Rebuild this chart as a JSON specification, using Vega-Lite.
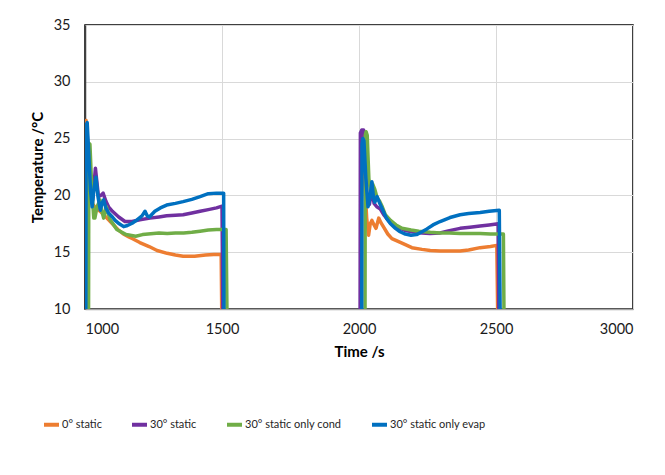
{
  "$schema": "https://vega.github.io/schema/vega-lite/v6.json",
  "width": 548,
  "height": 284,
  "autosize": {"type": "none"},
  "padding": {"left": 85, "top": 25, "right": 32, "bottom": 166},
  "background": "white",
  "config": {
    "font": "Lato",
    "view": {"stroke": "#000000", "strokeWidth": 1.5}
  },
  "data": {
    "values": [
      {"s": "0° static", "c": 1, "t": 1000, "T": 10},
      {"s": "0° static", "c": 1, "t": 1001, "T": 26.3},
      {"s": "0° static", "c": 1, "t": 1004, "T": 26.6},
      {"s": "0° static", "c": 1, "t": 1008, "T": 25},
      {"s": "0° static", "c": 1, "t": 1015, "T": 21.5},
      {"s": "0° static", "c": 1, "t": 1025, "T": 19.3},
      {"s": "0° static", "c": 1, "t": 1040, "T": 18.9},
      {"s": "0° static", "c": 1, "t": 1060, "T": 18.5},
      {"s": "0° static", "c": 1, "t": 1080, "T": 18.0},
      {"s": "0° static", "c": 1, "t": 1100, "T": 17.5},
      {"s": "0° static", "c": 1, "t": 1120, "T": 17.0},
      {"s": "0° static", "c": 1, "t": 1140, "T": 16.6},
      {"s": "0° static", "c": 1, "t": 1160, "T": 16.35},
      {"s": "0° static", "c": 1, "t": 1172, "T": 16.2},
      {"s": "0° static", "c": 1, "t": 1200, "T": 15.85},
      {"s": "0° static", "c": 1, "t": 1234, "T": 15.5},
      {"s": "0° static", "c": 1, "t": 1263, "T": 15.15},
      {"s": "0° static", "c": 1, "t": 1300, "T": 14.9},
      {"s": "0° static", "c": 1, "t": 1330, "T": 14.75},
      {"s": "0° static", "c": 1, "t": 1358, "T": 14.65},
      {"s": "0° static", "c": 1, "t": 1400, "T": 14.65},
      {"s": "0° static", "c": 1, "t": 1440, "T": 14.75},
      {"s": "0° static", "c": 1, "t": 1470, "T": 14.8},
      {"s": "0° static", "c": 1, "t": 1497, "T": 14.8},
      {"s": "0° static", "c": 1, "t": 1499, "T": 10},
      {"s": "0° static", "c": 2, "t": 2007, "T": 10},
      {"s": "0° static", "c": 2, "t": 2009, "T": 25.3},
      {"s": "0° static", "c": 2, "t": 2014, "T": 25.0},
      {"s": "0° static", "c": 2, "t": 2020, "T": 21.5},
      {"s": "0° static", "c": 2, "t": 2028, "T": 18.0},
      {"s": "0° static", "c": 2, "t": 2035, "T": 16.5},
      {"s": "0° static", "c": 2, "t": 2041, "T": 17.5},
      {"s": "0° static", "c": 2, "t": 2047, "T": 17.8},
      {"s": "0° static", "c": 2, "t": 2055, "T": 17.4},
      {"s": "0° static", "c": 2, "t": 2062, "T": 17.1},
      {"s": "0° static", "c": 2, "t": 2072, "T": 18.0},
      {"s": "0° static", "c": 2, "t": 2080, "T": 17.6},
      {"s": "0° static", "c": 2, "t": 2090, "T": 17.2},
      {"s": "0° static", "c": 2, "t": 2105, "T": 16.6},
      {"s": "0° static", "c": 2, "t": 2120, "T": 16.2},
      {"s": "0° static", "c": 2, "t": 2157, "T": 15.8},
      {"s": "0° static", "c": 2, "t": 2193, "T": 15.4},
      {"s": "0° static", "c": 2, "t": 2230, "T": 15.25},
      {"s": "0° static", "c": 2, "t": 2260, "T": 15.15},
      {"s": "0° static", "c": 2, "t": 2296, "T": 15.1},
      {"s": "0° static", "c": 2, "t": 2330, "T": 15.1},
      {"s": "0° static", "c": 2, "t": 2369, "T": 15.1},
      {"s": "0° static", "c": 2, "t": 2400, "T": 15.2},
      {"s": "0° static", "c": 2, "t": 2442, "T": 15.4},
      {"s": "0° static", "c": 2, "t": 2480, "T": 15.5},
      {"s": "0° static", "c": 2, "t": 2503, "T": 15.6},
      {"s": "0° static", "c": 2, "t": 2506, "T": 10},

      {"s": "30° static", "c": 1, "t": 1002, "T": 10},
      {"s": "30° static", "c": 1, "t": 1003, "T": 25.8},
      {"s": "30° static", "c": 1, "t": 1007, "T": 25.9},
      {"s": "30° static", "c": 1, "t": 1013, "T": 23},
      {"s": "30° static", "c": 1, "t": 1020, "T": 20.2},
      {"s": "30° static", "c": 1, "t": 1028, "T": 19.6},
      {"s": "30° static", "c": 1, "t": 1038, "T": 22.4},
      {"s": "30° static", "c": 1, "t": 1049, "T": 19.9},
      {"s": "30° static", "c": 1, "t": 1058, "T": 20.0},
      {"s": "30° static", "c": 1, "t": 1066, "T": 20.2},
      {"s": "30° static", "c": 1, "t": 1076, "T": 19.5},
      {"s": "30° static", "c": 1, "t": 1086, "T": 19.0},
      {"s": "30° static", "c": 1, "t": 1100, "T": 18.6},
      {"s": "30° static", "c": 1, "t": 1123, "T": 18.1},
      {"s": "30° static", "c": 1, "t": 1146, "T": 17.7},
      {"s": "30° static", "c": 1, "t": 1172, "T": 17.7},
      {"s": "30° static", "c": 1, "t": 1200, "T": 17.85},
      {"s": "30° static", "c": 1, "t": 1237, "T": 18.0},
      {"s": "30° static", "c": 1, "t": 1270, "T": 18.1},
      {"s": "30° static", "c": 1, "t": 1298, "T": 18.2},
      {"s": "30° static", "c": 1, "t": 1330, "T": 18.25},
      {"s": "30° static", "c": 1, "t": 1358, "T": 18.3},
      {"s": "30° static", "c": 1, "t": 1390, "T": 18.45},
      {"s": "30° static", "c": 1, "t": 1420, "T": 18.6},
      {"s": "30° static", "c": 1, "t": 1450, "T": 18.75},
      {"s": "30° static", "c": 1, "t": 1480, "T": 18.9},
      {"s": "30° static", "c": 1, "t": 1500, "T": 19.05},
      {"s": "30° static", "c": 1, "t": 1503, "T": 10},
      {"s": "30° static", "c": 2, "t": 2004, "T": 10},
      {"s": "30° static", "c": 2, "t": 2005, "T": 25.5},
      {"s": "30° static", "c": 2, "t": 2010, "T": 25.75},
      {"s": "30° static", "c": 2, "t": 2017, "T": 25.75},
      {"s": "30° static", "c": 2, "t": 2024, "T": 22},
      {"s": "30° static", "c": 2, "t": 2030, "T": 19.6},
      {"s": "30° static", "c": 2, "t": 2038, "T": 19.2},
      {"s": "30° static", "c": 2, "t": 2047, "T": 20.5},
      {"s": "30° static", "c": 2, "t": 2055, "T": 19.3},
      {"s": "30° static", "c": 2, "t": 2065, "T": 19.0},
      {"s": "30° static", "c": 2, "t": 2078, "T": 18.8},
      {"s": "30° static", "c": 2, "t": 2090, "T": 18.3},
      {"s": "30° static", "c": 2, "t": 2110, "T": 17.7},
      {"s": "30° static", "c": 2, "t": 2140, "T": 17.2},
      {"s": "30° static", "c": 2, "t": 2170, "T": 16.9},
      {"s": "30° static", "c": 2, "t": 2193, "T": 16.8},
      {"s": "30° static", "c": 2, "t": 2230, "T": 16.7},
      {"s": "30° static", "c": 2, "t": 2259, "T": 16.65},
      {"s": "30° static", "c": 2, "t": 2296, "T": 16.7},
      {"s": "30° static", "c": 2, "t": 2330, "T": 16.9},
      {"s": "30° static", "c": 2, "t": 2369, "T": 17.1},
      {"s": "30° static", "c": 2, "t": 2405, "T": 17.2},
      {"s": "30° static", "c": 2, "t": 2442, "T": 17.3},
      {"s": "30° static", "c": 2, "t": 2475, "T": 17.4},
      {"s": "30° static", "c": 2, "t": 2508, "T": 17.5},
      {"s": "30° static", "c": 2, "t": 2510, "T": 10},

      {"s": "30° static only cond", "c": 1, "t": 1013, "T": 10},
      {"s": "30° static only cond", "c": 1, "t": 1014, "T": 24.6},
      {"s": "30° static only cond", "c": 1, "t": 1018, "T": 24.5},
      {"s": "30° static only cond", "c": 1, "t": 1025, "T": 20.5},
      {"s": "30° static only cond", "c": 1, "t": 1032, "T": 18.0},
      {"s": "30° static only cond", "c": 1, "t": 1036, "T": 18.0},
      {"s": "30° static only cond", "c": 1, "t": 1044, "T": 19.0},
      {"s": "30° static only cond", "c": 1, "t": 1055, "T": 19.6},
      {"s": "30° static only cond", "c": 1, "t": 1062, "T": 18.6},
      {"s": "30° static only cond", "c": 1, "t": 1068, "T": 18.0},
      {"s": "30° static only cond", "c": 1, "t": 1078, "T": 19.0},
      {"s": "30° static only cond", "c": 1, "t": 1091, "T": 17.9},
      {"s": "30° static only cond", "c": 1, "t": 1116, "T": 17.0},
      {"s": "30° static only cond", "c": 1, "t": 1150, "T": 16.55},
      {"s": "30° static only cond", "c": 1, "t": 1185, "T": 16.4},
      {"s": "30° static only cond", "c": 1, "t": 1210, "T": 16.55},
      {"s": "30° static only cond", "c": 1, "t": 1250, "T": 16.65},
      {"s": "30° static only cond", "c": 1, "t": 1270, "T": 16.7},
      {"s": "30° static only cond", "c": 1, "t": 1300, "T": 16.65},
      {"s": "30° static only cond", "c": 1, "t": 1330, "T": 16.7},
      {"s": "30° static only cond", "c": 1, "t": 1360, "T": 16.7},
      {"s": "30° static only cond", "c": 1, "t": 1390, "T": 16.75},
      {"s": "30° static only cond", "c": 1, "t": 1420, "T": 16.85},
      {"s": "30° static only cond", "c": 1, "t": 1450, "T": 16.95},
      {"s": "30° static only cond", "c": 1, "t": 1480, "T": 17.0},
      {"s": "30° static only cond", "c": 1, "t": 1515, "T": 17.0},
      {"s": "30° static only cond", "c": 1, "t": 1518, "T": 10},
      {"s": "30° static only cond", "c": 2, "t": 2022, "T": 10},
      {"s": "30° static only cond", "c": 2, "t": 2023, "T": 25.3},
      {"s": "30° static only cond", "c": 2, "t": 2026, "T": 25.6},
      {"s": "30° static only cond", "c": 2, "t": 2030, "T": 25.3},
      {"s": "30° static only cond", "c": 2, "t": 2036, "T": 21.5},
      {"s": "30° static only cond", "c": 2, "t": 2042, "T": 20.3},
      {"s": "30° static only cond", "c": 2, "t": 2050, "T": 21.0},
      {"s": "30° static only cond", "c": 2, "t": 2058, "T": 20.5},
      {"s": "30° static only cond", "c": 2, "t": 2066, "T": 19.8},
      {"s": "30° static only cond", "c": 2, "t": 2075, "T": 19.5},
      {"s": "30° static only cond", "c": 2, "t": 2085, "T": 19.0},
      {"s": "30° static only cond", "c": 2, "t": 2096, "T": 18.3},
      {"s": "30° static only cond", "c": 2, "t": 2115, "T": 17.8},
      {"s": "30° static only cond", "c": 2, "t": 2135, "T": 17.4},
      {"s": "30° static only cond", "c": 2, "t": 2157, "T": 17.1},
      {"s": "30° static only cond", "c": 2, "t": 2190, "T": 16.95},
      {"s": "30° static only cond", "c": 2, "t": 2218, "T": 16.85},
      {"s": "30° static only cond", "c": 2, "t": 2260, "T": 16.75},
      {"s": "30° static only cond", "c": 2, "t": 2296, "T": 16.7},
      {"s": "30° static only cond", "c": 2, "t": 2330, "T": 16.7},
      {"s": "30° static only cond", "c": 2, "t": 2369, "T": 16.65},
      {"s": "30° static only cond", "c": 2, "t": 2442, "T": 16.65},
      {"s": "30° static only cond", "c": 2, "t": 2480, "T": 16.6},
      {"s": "30° static only cond", "c": 2, "t": 2527, "T": 16.6},
      {"s": "30° static only cond", "c": 2, "t": 2529, "T": 10},

      {"s": "30° static only evap", "c": 1, "t": 1003, "T": 10},
      {"s": "30° static only evap", "c": 1, "t": 1004, "T": 26.2},
      {"s": "30° static only evap", "c": 1, "t": 1008, "T": 26.4},
      {"s": "30° static only evap", "c": 1, "t": 1014, "T": 23.5},
      {"s": "30° static only evap", "c": 1, "t": 1020, "T": 20.5},
      {"s": "30° static only evap", "c": 1, "t": 1026, "T": 19.0},
      {"s": "30° static only evap", "c": 1, "t": 1034, "T": 20.8},
      {"s": "30° static only evap", "c": 1, "t": 1040, "T": 21.6},
      {"s": "30° static only evap", "c": 1, "t": 1048, "T": 19.8},
      {"s": "30° static only evap", "c": 1, "t": 1056, "T": 18.7},
      {"s": "30° static only evap", "c": 1, "t": 1062, "T": 19.3},
      {"s": "30° static only evap", "c": 1, "t": 1068, "T": 19.6},
      {"s": "30° static only evap", "c": 1, "t": 1076, "T": 18.9},
      {"s": "30° static only evap", "c": 1, "t": 1086, "T": 18.45},
      {"s": "30° static only evap", "c": 1, "t": 1100, "T": 18.1},
      {"s": "30° static only evap", "c": 1, "t": 1110, "T": 17.8},
      {"s": "30° static only evap", "c": 1, "t": 1125, "T": 17.5},
      {"s": "30° static only evap", "c": 1, "t": 1141, "T": 17.25},
      {"s": "30° static only evap", "c": 1, "t": 1155, "T": 17.35},
      {"s": "30° static only evap", "c": 1, "t": 1172, "T": 17.55},
      {"s": "30° static only evap", "c": 1, "t": 1190, "T": 17.85},
      {"s": "30° static only evap", "c": 1, "t": 1208, "T": 18.2},
      {"s": "30° static only evap", "c": 1, "t": 1219, "T": 18.6},
      {"s": "30° static only evap", "c": 1, "t": 1227, "T": 18.2},
      {"s": "30° static only evap", "c": 1, "t": 1235, "T": 18.1},
      {"s": "30° static only evap", "c": 1, "t": 1255, "T": 18.6},
      {"s": "30° static only evap", "c": 1, "t": 1275, "T": 18.9},
      {"s": "30° static only evap", "c": 1, "t": 1298, "T": 19.15},
      {"s": "30° static only evap", "c": 1, "t": 1330, "T": 19.3},
      {"s": "30° static only evap", "c": 1, "t": 1358, "T": 19.45},
      {"s": "30° static only evap", "c": 1, "t": 1390, "T": 19.65},
      {"s": "30° static only evap", "c": 1, "t": 1420, "T": 19.9},
      {"s": "30° static only evap", "c": 1, "t": 1450, "T": 20.15},
      {"s": "30° static only evap", "c": 1, "t": 1480, "T": 20.2},
      {"s": "30° static only evap", "c": 1, "t": 1506, "T": 20.2},
      {"s": "30° static only evap", "c": 1, "t": 1507, "T": 10},
      {"s": "30° static only evap", "c": 2, "t": 2010, "T": 10},
      {"s": "30° static only evap", "c": 2, "t": 2011, "T": 24.5},
      {"s": "30° static only evap", "c": 2, "t": 2014, "T": 25.0},
      {"s": "30° static only evap", "c": 2, "t": 2018, "T": 24.8},
      {"s": "30° static only evap", "c": 2, "t": 2025, "T": 21.5},
      {"s": "30° static only evap", "c": 2, "t": 2033, "T": 19.0},
      {"s": "30° static only evap", "c": 2, "t": 2040, "T": 19.8},
      {"s": "30° static only evap", "c": 2, "t": 2047, "T": 21.2},
      {"s": "30° static only evap", "c": 2, "t": 2053, "T": 19.8},
      {"s": "30° static only evap", "c": 2, "t": 2058, "T": 19.4},
      {"s": "30° static only evap", "c": 2, "t": 2066, "T": 19.9},
      {"s": "30° static only evap", "c": 2, "t": 2074, "T": 19.4},
      {"s": "30° static only evap", "c": 2, "t": 2085, "T": 18.8},
      {"s": "30° static only evap", "c": 2, "t": 2100, "T": 18.0},
      {"s": "30° static only evap", "c": 2, "t": 2115, "T": 17.5},
      {"s": "30° static only evap", "c": 2, "t": 2133, "T": 17.1},
      {"s": "30° static only evap", "c": 2, "t": 2150, "T": 16.8},
      {"s": "30° static only evap", "c": 2, "t": 2169, "T": 16.6},
      {"s": "30° static only evap", "c": 2, "t": 2190, "T": 16.5},
      {"s": "30° static only evap", "c": 2, "t": 2210, "T": 16.55},
      {"s": "30° static only evap", "c": 2, "t": 2230, "T": 16.8},
      {"s": "30° static only evap", "c": 2, "t": 2248, "T": 17.05},
      {"s": "30° static only evap", "c": 2, "t": 2270, "T": 17.4},
      {"s": "30° static only evap", "c": 2, "t": 2296, "T": 17.7},
      {"s": "30° static only evap", "c": 2, "t": 2332, "T": 18.05},
      {"s": "30° static only evap", "c": 2, "t": 2369, "T": 18.3},
      {"s": "30° static only evap", "c": 2, "t": 2400, "T": 18.4},
      {"s": "30° static only evap", "c": 2, "t": 2442, "T": 18.5},
      {"s": "30° static only evap", "c": 2, "t": 2475, "T": 18.6},
      {"s": "30° static only evap", "c": 2, "t": 2512, "T": 18.7},
      {"s": "30° static only evap", "c": 2, "t": 2515, "T": 10}
    ]
  },
  "mark": {"type": "line", "strokeWidth": 3.5, "strokeJoin": "round", "clip": true},
  "encoding": {
    "x": {
      "field": "t",
      "type": "quantitative",
      "scale": {"domain": [1000, 3000], "nice": false, "zero": false},
      "axis": {
        "values": [1000, 1500, 2000, 2500, 3000],
        "format": "d",
        "title": "Time /s",
        "titleFont": "Lato",
        "titleFontSize": 15,
        "titleFontWeight": "bold",
        "titleColor": "#000000",
        "titlePadding": 9,
        "labelFont": "Lato",
        "labelFontSize": 14.5,
        "labelColor": "#1a1a1a",
        "labelPadding": 13,
        "ticks": false,
        "domainColor": "#a6a6a6",
        "domainWidth": 1.5,
        "gridColor": "#d9d9d9",
        "gridWidth": 1
      }
    },
    "y": {
      "field": "T",
      "type": "quantitative",
      "scale": {"domain": [10, 35], "nice": false, "zero": false},
      "axis": {
        "values": [10, 15, 20, 25, 30, 35],
        "format": "d",
        "title": "Temperature /°C",
        "titleFont": "Lato",
        "titleFontSize": 15,
        "titleFontWeight": "bold",
        "titleColor": "#000000",
        "titlePadding": 8,
        "labelFont": "Lato",
        "labelFontSize": 14.5,
        "labelColor": "#1a1a1a",
        "labelPadding": 15,
        "ticks": false,
        "domainColor": "#404040",
        "domainWidth": 1.5,
        "gridColor": "#d9d9d9",
        "gridWidth": 1
      }
    },
    "color": {
      "field": "s",
      "type": "nominal",
      "scale": {
        "domain": ["0° static", "30° static", "30° static only cond", "30° static only evap"],
        "range": ["#ED7D31", "#7030A0", "#70AD47", "#0070C0"]
      },
      "legend": {
        "title": null,
        "orient": "none",
        "legendX": -43,
        "legendY": 390,
        "direction": "horizontal",
        "columns": 4,
        "columnPadding": 22,
        "symbolType": "stroke",
        "symbolSize": 225,
        "symbolStrokeWidth": 4,
        "labelOffset": 1,
        "labelFont": "Lato",
        "labelFontSize": 11,
        "labelColor": "#262626",
        "labelLimit": 300
      }
    },
    "detail": {"field": "c", "type": "nominal"}
  }
}
